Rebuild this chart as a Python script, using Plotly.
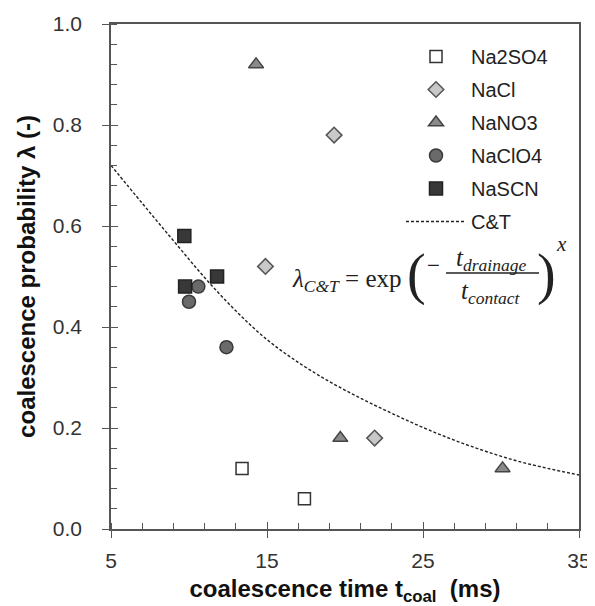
import plotly.graph_objects as go

# ---------------- data ----------------
na2so4_x = [13.4, 17.4]
na2so4_y = [0.12, 0.06]
nacl_x = [14.9, 19.3, 21.9]
nacl_y = [0.52, 0.78, 0.18]
nano3_x = [14.3, 19.7, 30.1]
nano3_y = [0.92, 0.18, 0.12]
naclo4_x = [10.0, 10.6, 12.4]
naclo4_y = [0.45, 0.48, 0.36]
nascn_x = [9.7, 9.75, 11.8]
nascn_y = [0.58, 0.48, 0.50]
ct_x = [5, 7, 9, 11, 13, 15, 17, 19, 21, 23, 25, 27, 29, 31, 33, 35]
ct_y = [0.72, 0.645, 0.571, 0.498, 0.432, 0.375, 0.33, 0.292, 0.259, 0.229,
        0.201, 0.176, 0.154, 0.135, 0.12, 0.107]
x_ticks = [5, 15, 25, 35]
y_ticks = [0.0, 0.2, 0.4, 0.6, 0.8, 1.0]

FONT = "Liberation Sans, Arial, sans-serif"
SERIF = "Liberation Serif, DejaVu Serif, serif"

fig = go.Figure()

def add_pts(name, xs, ys, symbol, fill, line, size, group):
    fig.add_trace(go.Scatter(
        x=xs, y=ys, mode="markers", name=name, legendgroup=group,
        marker=dict(symbol=symbol, color=fill, size=size,
                    line=dict(color=line, width=1.5)),
    ))

add_pts("Na2SO4", na2so4_x, na2so4_y, "square", "white", "#333333", 12, "a")
add_pts("NaCl", nacl_x, nacl_y, "diamond", "#c8c8c8", "#555555", 12, "b")
add_pts("NaNO3", nano3_x, nano3_y, "triangle-up", "#8a8a8a", "#444444", 13, "c")
add_pts("NaClO4", naclo4_x, naclo4_y, "circle", "#6a6a6a", "#3a3a3a", 13, "d")
add_pts("NaSCN", nascn_x, nascn_y, "square", "#383838", "#222222", 13, "e")

fig.add_trace(go.Scatter(
    x=ct_x, y=ct_y, mode="lines", name="C&T", legendgroup="f",
    line=dict(color="#222222", width=1.4, dash="3px,2px", shape="spline"),
))

axis_common = dict(
    showline=True, linecolor="#555555", linewidth=1.6, mirror=True,
    showgrid=False, zeroline=False, automargin=False,
    ticks="outside", ticklen=7, tickwidth=1.4, tickcolor="#555555",
    tickfont=dict(family=FONT, size=21, color="#333333"),
)

fig.update_xaxes(
    range=[5, 35], tickvals=x_ticks, ticklabelstandoff=5, **axis_common,
    minor=dict(ticks="inside", dtick=2, tick0=5, ticklen=6, tickwidth=1.2,
               tickcolor="#555555"),
    title=dict(text="<b>coalescence time t<sub>coal</sub>  (ms)</b>",
               font=dict(family=FONT, size=24, color="#111111"), standoff=9),
)
fig.update_yaxes(
    range=[0, 1.0], tickvals=y_ticks, tickformat=".1f", ticklabelstandoff=16,
    **axis_common,
    minor=dict(ticks="inside", dtick=0.04, tick0=0, ticklen=6, tickwidth=1.2,
               tickcolor="#555555"),
    title=dict(text="<b>coalescence probability λ (-)</b>",
               font=dict(family=FONT, size=24, color="#111111"), standoff=10),
)

# overlay axes for the inside half of the major ticks
fig.update_layout(
    xaxis2=dict(overlaying="x", matches="x", range=[5, 35], tickvals=x_ticks,
                ticks="inside", ticklen=7, tickwidth=1.4, tickcolor="#555555",
                showticklabels=False, showgrid=False, zeroline=False,
                showline=False, side="bottom", automargin=False),
    yaxis2=dict(overlaying="y", matches="y", range=[0, 1.0], tickvals=y_ticks,
                ticks="inside", ticklen=7, tickwidth=1.4, tickcolor="#555555",
                showticklabels=False, showgrid=False, zeroline=False,
                showline=False, side="left", automargin=False),
)
fig.add_trace(go.Scatter(x=[None], y=[None], xaxis="x2", yaxis="y2",
                         showlegend=False, hoverinfo="skip"))

# ---------------- formula ----------------
# page pixel coords of the plot area (page has an 8px body margin)
L, R, T, B = 111, 579, 24, 529
def px(x):
    return (x - L) / (R - L)
def py(y):
    return (B - y) / (B - T)

def ann(text, x, y, size, xanchor="center", family=SERIF):
    fig.add_annotation(text=text, x=px(x), y=py(y), xref="paper", yref="paper",
                       showarrow=False, xanchor=xanchor, yanchor="middle",
                       font=dict(family=family, size=size, color="#222222"))

ann("<i>λ</i><sub><i>C&T</i></sub> = exp", 290, 280, 25, xanchor="left")
ann("(", 416, 274, 56)
ann("−", 433, 265, 23)
ann("<i>t</i><sub><i>drainage</i></sub>", 491, 260, 25)
ann("<i>t</i><sub><i>contact</i></sub>", 491, 292, 25)
ann(")", 546, 274, 56)
ann("<i>x</i>", 561, 244, 21)
fig.add_shape(type="line", xref="paper", yref="paper",
              x0=px(446), x1=px(539), y0=py(273), y1=py(273),
              line=dict(color="#222222", width=1.3))

fig.update_layout(
    width=587, height=598,
    margin=dict(l=L - 8, r=595 - R, t=T - 8, b=606 - B),
    paper_bgcolor="white", plot_bgcolor="white",
    legend=dict(x=px(401), y=py(37), xanchor="left", yanchor="top",
                bgcolor="rgba(0,0,0,0)", traceorder="grouped",
                tracegroupgap=4, itemwidth=60,
                font=dict(family=FONT, size=20, color="#222222")),
    showlegend=True,
)

fig.write_html("out.html")
